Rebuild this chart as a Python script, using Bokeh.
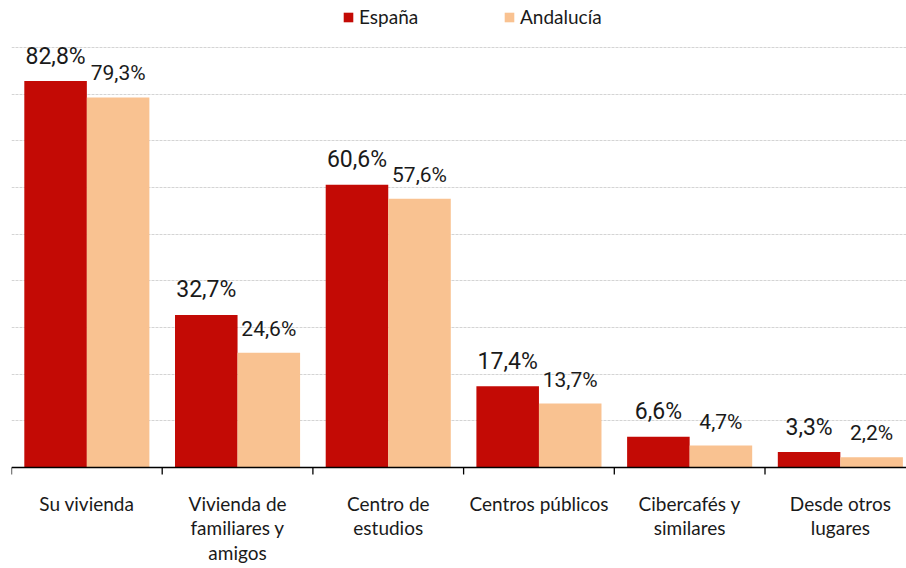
from bokeh.plotting import figure
from bokeh.models import Range1d, Legend, LegendItem, ColumnDataSource, Grid, FixedTicker, Span
from bokeh.core.properties import value
from bokeh.embed import file_html
from bokeh.resources import INLINE

categories = ["Su vivienda", "Vivienda de\nfamiliares y\namigos", "Centro de\nestudios",
              "Centros públicos", "Cibercafés y\nsimilares", "Desde otros\nlugares"]
espana = [82.8, 32.7, 60.6, 17.4, 6.6, 3.3]
andalucia = [79.3, 24.6, 57.6, 13.7, 4.7, 2.2]
series_names = ["España", "Andalucía"]
y_ticks = [10, 20, 30, 40, 50, 60, 70, 80, 90]

RED = "#C30A05"
PEACH = "#F9C291"
TXT = "#1a1a1a"
LABEL_FONT = "Lato"
NUM_FONT = "Roboto"

W, H = 906, 568
LEFT = 11
PX_PER_UNIT = 420 / 90          # vertical pixels per percentage point
PX_PER_CAT = 150.7              # horizontal pixels per category
BOTTOM_PX = 101                 # room below the zero line for category labels
FRAME_W = W - LEFT


def fmt(v):
    return f"{v:.1f}%".replace(".", ",")


idx = list(range(len(categories)))
src_e = ColumnDataSource(dict(x=[i + 0.2925 for i in idx], top=espana, label=[fmt(v) for v in espana]))
src_a = ColumnDataSource(dict(x=[i + 0.7075 for i in idx], top=andalucia, label=[fmt(v) for v in andalucia]))
src_c = ColumnDataSource(dict(x=[i + 0.5 for i in idx], y=[0] * len(idx), text=categories))
bounds = list(range(len(categories) + 1))
tick_len = 7 / PX_PER_UNIT
src_t = ColumnDataSource(dict(x=bounds, y0=[0] * len(bounds), y1=[-tick_len] * len(bounds)))

p = figure(width=W, height=H,
           x_range=Range1d(0, FRAME_W / PX_PER_CAT),
           y_range=Range1d(-BOTTOM_PX / PX_PER_UNIT, (H - BOTTOM_PX) / PX_PER_UNIT),
           output_backend="svg", toolbar_location=None,
           x_axis_location=None, y_axis_location=None,
           min_border_left=LEFT, min_border_right=0, min_border_top=0, min_border_bottom=0)
p.outline_line_color = None
p.center = [r for r in p.center if not isinstance(r, Grid)]
p.add_layout(Grid(dimension=1, ticker=FixedTicker(ticks=y_ticks), grid_line_color="#d4d4d4",
                  grid_line_dash="3 1", grid_line_width=1))

r_e = p.vbar(x="x", top="top", width=0.415, bottom=0, source=src_e, fill_color=RED, line_color=None)
r_a = p.vbar(x="x", top="top", width=0.415, bottom=0, source=src_a, fill_color=PEACH, line_color=None)

# zero line and category separators
p.add_layout(Span(location=0, dimension="width", line_color="black", line_width=1.3))
p.segment(x0="x", y0="y0", x1="x", y1="y1", source=src_t, line_color="black", line_width=1.3)

# value labels
p.text(x="x", y="top", text="label", source=src_e, text_align="center", text_baseline="alphabetic",
       y_offset=-25, text_font=value(NUM_FONT), text_font_size="23px", text_color=TXT)
p.text(x="x", y="top", text="label", source=src_a, text_align="center", text_baseline="alphabetic",
       y_offset=-24, text_font=value(NUM_FONT), text_font_size="21px", text_color=TXT)

# category labels
p.text(x="x", y="y", text="text", source=src_c, text_align="center", text_baseline="top",
       y_offset=24, text_font=value(LABEL_FONT), text_font_size="19px", text_color=TXT,
       text_line_height=1.08)

for name, rend, loc in [(series_names[0], r_e, (331, 540)), (series_names[1], r_a, (492, 540))]:
    leg = Legend(items=[LegendItem(label=name, renderers=[rend])], location=loc,
                 glyph_width=12, glyph_height=12, label_standoff=5, padding=0, margin=0, spacing=0,
                 border_line_alpha=0, background_fill_alpha=0, label_height=20,
                 label_text_font=LABEL_FONT, label_text_font_size="19px", label_text_color=TXT)
    p.add_layout(leg)

open("out.html", "w").write(file_html(p, INLINE))
